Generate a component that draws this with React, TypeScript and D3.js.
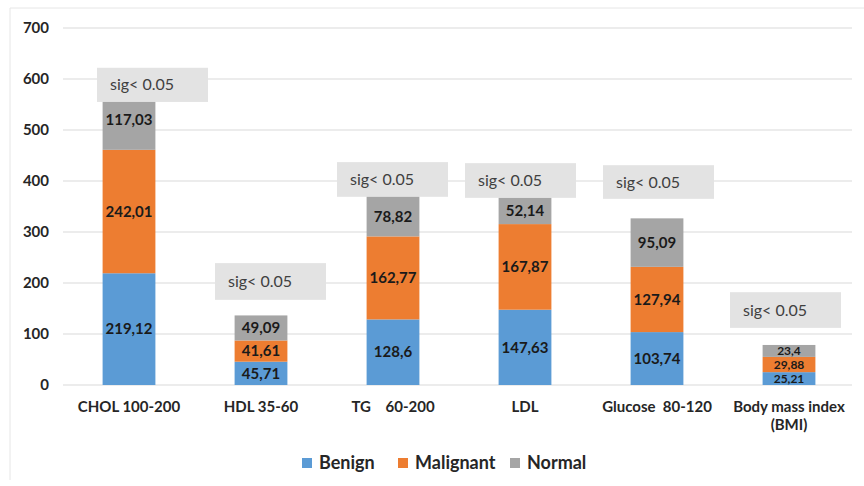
import React from "react";
import * as d3 from "d3";

const categories = ["CHOL 100-200", "HDL 35-60", "TG    60-200", "LDL", "Glucose  80-120", "Body mass index|(BMI)"];
const benign = [219.12, 45.71, 128.6, 147.63, 103.74, 25.21];
const malignant = [242.01, 41.61, 162.77, 167.87, 127.94, 29.88];
const normal = [117.03, 49.09, 78.82, 52.14, 95.09, 23.4];
const seriesNames = ["Benign", "Malignant", "Normal"];
const yTicks = [0, 100, 200, 300, 400, 500, 600, 700];
const sigLabel = "sig< 0.05";
// annotation boxes: [top value, bottom value] per category
const sigTop = [622, 239, 437, 435, 431, 182];
const sigBottom = [555, 167, 369, 367, 365, 112];
const sigDx = [-32, -46, -56, -60, -54, -59];

const colors = ["#5B9BD5", "#ED7D31", "#A5A5A5"];
const FONT = "Lato, 'Open Sans', sans-serif";

export default function App() {
  const W = 864, H = 486;
  const x = d3.scaleBand<string>().domain(categories).range([63, 855]).paddingInner(0.6).paddingOuter(0.3);
  const y = d3.scaleLinear().domain([0, 700]).range([385, 28]);
  const seriesValues = [benign, malignant, normal];
  const data = categories.map((c, i) => ({ cat: c, Benign: benign[i], Malignant: malignant[i], Normal: normal[i] }));
  const stack = d3.stack<any>().keys(seriesNames)(data);
  const fmt = (v: number) => String(v).replace(".", ",");
  const legendX = [302, 398, 510];

  return (
    <svg width={W} height={H} style={{ position: "absolute", left: 0, top: 0, background: "#fff" }}>
      <line x1={10} x2={864} y1={8} y2={8} stroke="#e6e6e6" />
      <line x1={10} x2={10} y1={8} y2={480} stroke="#e6e6e6" />
      {yTicks.map((t) => (
        <g key={t}>
          <line x1={63} x2={852} y1={y(t)} y2={y(t)} stroke="#d9d9d9" strokeWidth={1} />
          <text x={49} y={y(t)} dy="0.35em" textAnchor="end" fontFamily={FONT} fontWeight={700} fontSize={15} fill="#262626">
            {t}
          </text>
        </g>
      ))}
      {stack.map((s, si) => (
        <g key={s.key}>
          {s.map((d, i) => (
            <g key={i}>
              <rect x={x(categories[i])!} width={x.bandwidth()} y={y(d[1])} height={y(d[0]) - y(d[1])} fill={colors[si]} />
              <text
                x={x(categories[i])! + x.bandwidth() / 2}
                y={(y(d[0]) + y(d[1])) / 2}
                dy="0.35em"
                textAnchor="middle"
                fontFamily={FONT}
                fontWeight={700}
                fontSize={i === 5 ? 12 : 15}
                fill="#1a1a1a"
              >
                {fmt(seriesValues[si][i])}
              </text>
            </g>
          ))}
        </g>
      ))}
      {categories.map((c, i) => {
        const cx = x(c)! + x.bandwidth() / 2;
        const bx = cx + sigDx[i];
        return (
          <g key={"sig" + i}>
            <rect x={bx} y={y(sigTop[i])} width={111} height={y(sigBottom[i]) - y(sigTop[i])} fill="#e3e3e3" />
            <text x={bx + 13} y={(y(sigTop[i]) + y(sigBottom[i])) / 2} dy="0.35em" fontFamily={FONT} fontSize={16} fill="#404040">
              {sigLabel}
            </text>
          </g>
        );
      })}
      {categories.map((c, i) => {
        const cx = x(c)! + x.bandwidth() / 2;
        const lines = c.split("|");
        return (
          <text key={"xl" + i} x={cx} y={412} textAnchor="middle" fontFamily={FONT} fontWeight={700} fontSize={15} fill="#262626" style={{ whiteSpace: "pre" }}>
            {lines.map((l, li) => (
              <tspan key={li} x={cx} dy={li === 0 ? 0 : 18}>
                {l}
              </tspan>
            ))}
          </text>
        );
      })}
      {seriesNames.map((n, i) => (
        <g key={n}>
          <rect x={legendX[i]} y={458} width={10} height={10} fill={colors[i]} />
          <text x={legendX[i] + 17} y={469} fontFamily={FONT} fontWeight={700} fontSize={18} fill="#262626">
            {n}
          </text>
        </g>
      ))}
    </svg>
  );
}
